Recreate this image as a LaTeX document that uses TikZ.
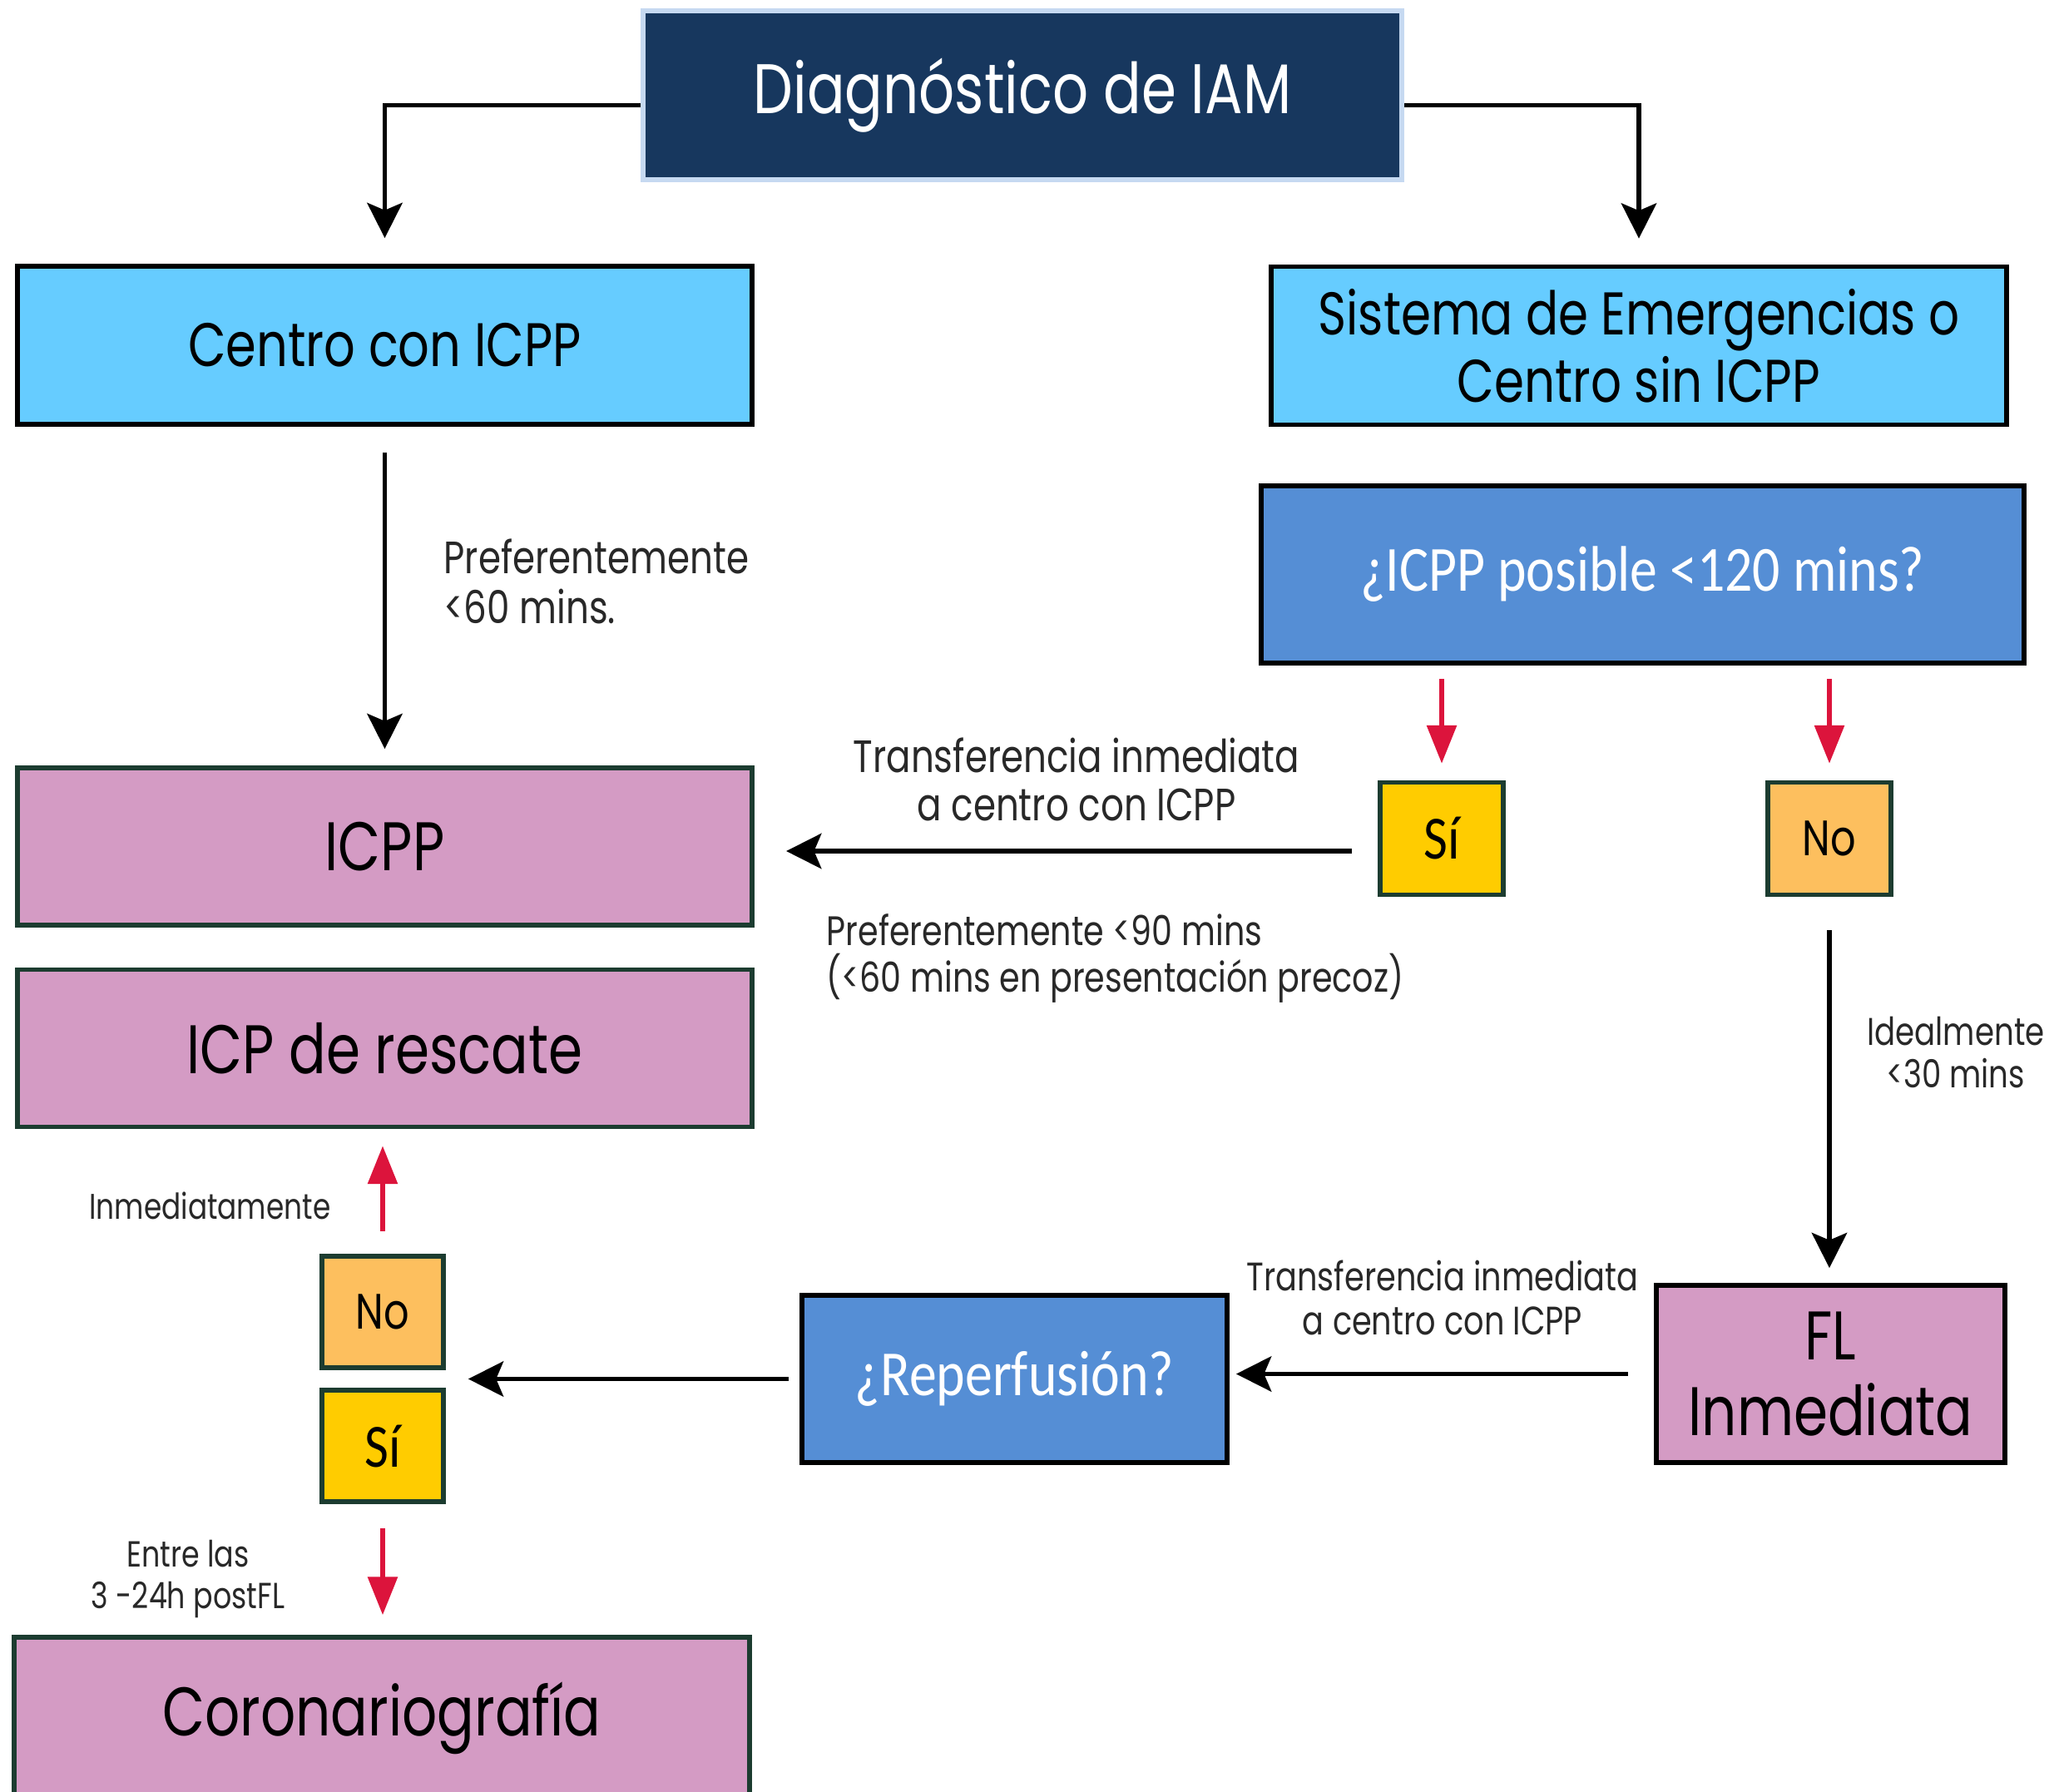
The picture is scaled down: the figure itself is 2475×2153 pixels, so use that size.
\documentclass[tikz,border=0pt]{standalone}
\usepackage{fontspec}
\setmainfont{Poppins}[FakeStretch=0.8]
\newfontfamily\calibfont{Carlito}[FakeStretch=0.85]
\usetikzlibrary{arrows.meta,positioning,calc}
\definecolor{navyiam}{RGB}{23,55,94}
\definecolor{paleedge}{RGB}{198,217,241}
\definecolor{skyfill}{RGB}{102,204,255}
\definecolor{bluefill}{RGB}{85,142,213}
\definecolor{pinkfill}{RGB}{212,155,196}
\definecolor{greenedge}{RGB}{28,60,48}
\definecolor{yesfill}{RGB}{255,204,0}
\definecolor{nofill}{RGB}{253,191,94}
\definecolor{redarrow}{RGB}{220,20,60}
\definecolor{labelgray}{RGB}{40,40,40}

\begin{document}
\begin{tikzpicture}[x=0.01cm,y=-0.01cm,every node/.style={align=center,inner sep=0pt},
  skybox/.style={draw=black,line width=1.6pt,fill=skyfill,minimum width=8.83cm,minimum height=1.9cm,font=\fontsize{21}{23}\selectfont},
  pinkbox/.style={draw=greenedge,line width=1.6pt,fill=pinkfill,minimum width=8.83cm,minimum height=1.89cm,font=\fontsize{23.5}{26}\selectfont},
  bluebox/.style={draw=black,line width=1.6pt,fill=bluefill,text=white,font=\fontsize{22}{24}\calibfont},
  tag/.style={draw=greenedge,line width=1.6pt,minimum width=1.48cm,minimum height=1.35cm},
  lbl/.style={text=labelgray},
  arr/.style={-{Stealth[length=12pt,width=12pt,inset=2.5pt]},line width=1.6pt},
  redarr/.style={-{Triangle[length=13pt,width=10pt]},line width=1.5pt,draw=redarrow,fill=redarrow}]
\useasboundingbox (0,0) rectangle (2475,2153);
\clip (0,0) rectangle (2475,2153);
\fill[white] (0,0) rectangle (2475,2153);
\node[draw=paleedge,line width=1.8pt,fill=navyiam,text=white,minimum width=9.12cm,minimum height=2.03cm,font=\fontsize{24}{26}\selectfont] (diag) at (1229,114.5) {Diagnóstico de IAM};
\node[skybox] (centro) at (462.5,415) {Centro con ICPP};
\node[skybox,font=\fontsize{20.6}{23}\selectfont] (sem) at (1970,415.5) {Sistema de Emergencias o\\Centro sin ICPP};
\node[bluebox,minimum width=9.17cm,minimum height=2.13cm] (posible) at (1974.5,690.5) {¿ICPP posible <120 mins?};
\node[tag,fill=yesfill,font=\fontsize{21}{23}\calibfont] (si) at (1733,1008) {Sí};
\node[tag,fill=nofill,font=\fontsize{17}{19}\selectfont] (no) at (2199,1008) {No};
\node[pinkbox] (icpp) at (462.5,1017.5) {ICPP};
\node[pinkbox] (rescate) at (462.5,1260) {ICP de rescate};
\node[pinkbox,draw=black,minimum width=4.19cm,minimum height=2.13cm] (fl) at (2200.5,1651.5) {FL\\Inmediata};
\node[bluebox,minimum width=5.11cm,minimum height=2.01cm] (rep) at (1219.5,1657.5) {¿Reperfusión?};
\node[tag,fill=nofill,minimum width=1.46cm,minimum height=1.34cm,font=\fontsize{17}{19}\selectfont] (noR) at (460,1577) {No};
\node[tag,fill=yesfill,minimum width=1.46cm,minimum height=1.34cm,font=\fontsize{21}{23}\calibfont] (siR) at (460,1738) {Sí};
\node[pinkbox,minimum width=8.84cm,minimum height=1.94cm] (coro) at (459,2065) {Coronariografía};
\coordinate (ns) at ($(noR.east)!0.5!(siR.east)$);

\node[lbl,anchor=west,align=left,font=\fontsize{15.5}{17}\selectfont] (pref60) at (533,699) {Preferentemente\\<60 mins.};
\node[lbl,font=\fontsize{15.5}{16.5}\selectfont] (trans1) at (1294,937) {Transferencia inmediata\\a centro con ICPP};
\node[lbl,anchor=west,align=left,font=\fontsize{14.1}{16}\selectfont] (pref90) at (993,1152) {Preferentemente <90 mins\\(<60 mins en presentación precoz)};
\node[lbl,font=\fontsize{13.2}{14.3}\selectfont] (ideal) at (2351,1265) {Idealmente\\<30 mins};
\node[lbl,font=\fontsize{13.6}{15}\selectfont] (trans2) at (1734,1560) {Transferencia inmediata\\a centro con ICPP};
\node[lbl,anchor=east,font=\fontsize{12.2}{14}\selectfont] (inmed) at (398,1449) {Inmediatamente};
\node[lbl,font=\fontsize{12.4}{14.3}\selectfont] (entre) at (226,1898) {Entre las\\3 -24h postFL};

\draw[arr,shorten >=0.31cm] ([yshift=-0.12cm]diag.west) -| (centro.north);
\draw[arr,shorten >=0.31cm] ([yshift=-0.12cm]diag.east) -| (sem.north);
\draw[arr,shorten <=0.31cm,shorten >=0.2cm] (centro) -- (icpp);
\draw[redarr,shorten <=0.16cm,shorten >=0.2cm] (si |- posible.south) -- (si);
\draw[redarr,shorten <=0.16cm,shorten >=0.2cm] (no |- posible.south) -- (no);
\draw[arr,shorten <=0.31cm,shorten >=0.38cm] ([yshift=-0.15cm]si.west) -- ([yshift=-0.15cm]si.west -| icpp.east);
\draw[arr,shorten <=0.4cm,shorten >=0.18cm] (no) -- (no |- fl.north);
\draw[arr,shorten <=0.31cm,shorten >=0.08cm] (fl.west) -- (fl.west -| rep.east);
\draw[arr,shorten <=0.13cm,shorten >=0.27cm] (rep.west) -- (ns);
\draw[redarr,shorten <=0.27cm,shorten >=0.2cm] (noR) -- (noR |- rescate.south);
\draw[redarr,shorten <=0.29cm,shorten >=0.24cm] (siR) -- (siR |- coro.north);
\end{tikzpicture}
\end{document}
